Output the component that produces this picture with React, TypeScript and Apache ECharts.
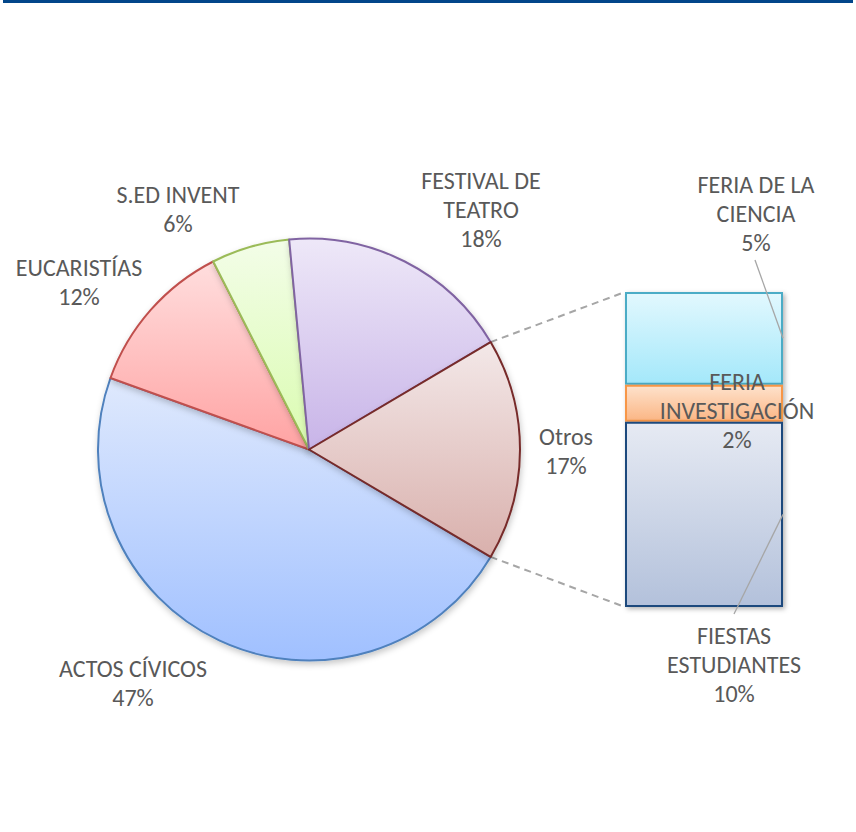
import React, { useEffect, useRef } from 'react';
import * as echarts from 'echarts';

// ---- data ----
const pieCategories = ['ACTOS CÍVICOS', 'EUCARISTÍAS', 'S.ED INVENT', 'FESTIVAL DE TEATRO', 'Otros'];
const mainValues = [47, 12, 6, 18]; // ACTOS, EUCARISTÍAS, S.ED, FESTIVAL
// listed top of bar first; stacked bottom-up in reverse
const barCategories = ['FERIA DE LA CIENCIA', 'FERIA INVESTIGACIÓN', 'FIESTAS ESTUDIANTES'];
const barValues = [5, 2, 10];
const otrosValue = barValues.reduce((a, b) => a + b, 0);
const pieValues = [...mainValues, otrosValue];

// ---- layout / style ----
const FONT = 'Carlito, Calibri, Lato, "Liberation Sans", sans-serif';
const TEXT_COLOR = '#595959';
const PIE_CENTER = [309, 449.5];
const PIE_R = 211;
const GRID = { left: 625, top: 292, width: 158, height: 315 };

const wrapped: Record<string, string> = {
  'FESTIVAL DE TEATRO': 'FESTIVAL DE\nTEATRO',
  'FERIA DE LA CIENCIA': 'FERIA DE LA\nCIENCIA',
  'FERIA INVESTIGACIÓN': 'FERIA\nINVESTIGACIÓN',
  'FIESTAS ESTUDIANTES': 'FIESTAS\nESTUDIANTES',
};

const pieLabelPos = [
  [133, 682.5],
  [79, 281.5],
  [178, 208.5],
  [481, 209],
  [566, 450.5],
];
const barLabelPos = [
  [756, 213],
  [737, 410.5],
  [734, 664],
];

const pieStyles = [
  { top: '#dfe9fd', bottom: '#a0c0ff', border: '#4f81bd' },
  { top: '#ffdede', bottom: '#ffa3a3', border: '#c0504d' },
  { top: '#f3fde8', bottom: '#dafcb0', border: '#9bbb59' },
  { top: '#eee8f8', bottom: '#c8b4e8', border: '#8064a2' },
  { top: '#f3e8e8', bottom: '#d9b0ac', border: '#772c2a' },
];
const barStyles = [
  { top: '#e2f8fe', bottom: '#a4e8fa', border: '#4bacc6' },
  { top: '#fee2cc', bottom: '#fbb685', border: '#f79646' },
  { top: '#e6eaf3', bottom: '#b3c1db', border: '#1f497d' },
];

const grad = (s: { top: string; bottom: string }) => ({
  type: 'linear',
  x: 0,
  y: 0,
  x2: 0,
  y2: 1,
  colorStops: [
    { offset: 0, color: s.top },
    { offset: 1, color: s.bottom },
  ],
});

const labelText = {
  fontFamily: FONT,
  fontSize: 24,
  lineHeight: 29,
  color: TEXT_COLOR,
  overflow: 'none',
};

export default function App() {
  const ref = useRef<HTMLDivElement>(null);

  useEffect(() => {
    document.body.style.margin = '0';
    if (!ref.current) return;
    const chart = echarts.init(ref.current, undefined, { renderer: 'svg' });
    const total = pieValues.reduce((a, b) => a + b, 0);
    const startAngle = -(otrosValue / total) * 180; // Otros centred on horizontal

    const barSeries = barCategories.map((name, i) => ({
      type: 'bar',
      name,
      stack: 'otros',
      stackOrder: 'seriesDesc',
      barWidth: '100%',
      xAxisIndex: 0,
      yAxisIndex: 0,
      data: [barValues[i]],
      z: 2,
      itemStyle: {
        color: grad(barStyles[i]),
        borderColor: barStyles[i].border,
        borderWidth: 2,
        shadowBlur: 5,
        shadowOffsetX: 2,
        shadowOffsetY: 2,
        shadowColor: 'rgba(0,0,0,0.3)',
      },
      label: {
        show: true,
        ...labelText,
        align: 'center',
        formatter: () =>
          `${wrapped[name] ?? name}\n${Math.round((barValues[i] / total) * 100)}%`,
      },
      labelLayout: () => ({
        x: barLabelPos[i][0],
        y: barLabelPos[i][1],
        align: 'center',
        verticalAlign: 'middle',
      }),
    }));

    chart.setOption({
      animation: false,
      grid: { ...GRID, containLabel: false },
      xAxis: { type: 'category', data: ['Otros'], show: false },
      yAxis: { type: 'value', min: 0, max: otrosValue, show: false },
      series: [
        {
          type: 'pie',
          center: PIE_CENTER,
          radius: PIE_R,
          startAngle,
          clockwise: true,
          percentPrecision: 0,
          data: pieCategories.map((name, i) => ({
            name,
            value: pieValues[i],
            itemStyle: {
              color: grad(pieStyles[i]),
              borderColor: pieStyles[i].border,
              borderWidth: 2,
              shadowBlur: 6,
              shadowOffsetY: 3,
              shadowOffsetX: 1,
              shadowColor: 'rgba(0,0,0,0.22)',
            },
          })),
          label: {
            show: true,
            position: 'outside',
            ...labelText,
            align: 'center',
            formatter: (p: any) => `${wrapped[p.name] ?? p.name}\n${p.percent}%`,
          },
          labelLine: { show: false },
          labelLayout: (p: any) => ({
            x: pieLabelPos[p.dataIndex][0],
            y: pieLabelPos[p.dataIndex][1],
            align: 'center',
            verticalAlign: 'middle',
          }),
          emphasis: { disabled: true },
        },
        ...barSeries,
      ],
    });

    // connectors and leader lines, computed from the library's scales
    const half = (Math.abs(startAngle) * Math.PI) / 180;
    const pTop = [PIE_CENTER[0] + PIE_R * Math.cos(half), PIE_CENTER[1] - PIE_R * Math.sin(half)];
    const pBot = [PIE_CENTER[0] + PIE_R * Math.cos(half), PIE_CENTER[1] + PIE_R * Math.sin(half)];
    const xLeft = GRID.left;
    const xRight = GRID.left + GRID.width;
    const yTop = chart.convertToPixel({ yAxisIndex: 0 }, otrosValue) as number;
    const yBot = chart.convertToPixel({ yAxisIndex: 0 }, 0) as number;
    // segment midpoint, stacked from the top of the bar downwards
    const mid = (i: number) => {
      let c = 0;
      for (let k = 0; k < i; k++) c += barValues[k];
      return chart.convertToPixel({ yAxisIndex: 0 }, otrosValue - c - barValues[i] / 2) as number;
    };
    const dash = { stroke: '#a6a6a6', lineWidth: 2, lineDash: [7, 5] };
    const guide = { stroke: '#a6a6a6', lineWidth: 1.3 };
    chart.setOption({
      graphic: [
        { type: 'rect', shape: { x: 3, y: 0, width: 850, height: 3 }, style: { fill: '#02468a' } },
        { type: 'line', shape: { x1: pTop[0], y1: pTop[1], x2: xLeft, y2: yTop }, style: dash, z: 1 },
        { type: 'line', shape: { x1: pBot[0], y1: pBot[1], x2: xLeft, y2: yBot }, style: dash, z: 1 },
        { type: 'line', shape: { x1: 755, y1: 260, x2: xRight, y2: mid(0) }, style: guide, z: 10 },
        { type: 'line', shape: { x1: 734, y1: 614, x2: xRight, y2: mid(2) }, style: guide, z: 10 },
      ],
    });

    return () => chart.dispose();
  }, []);

  return <div ref={ref} style={{ width: 856, height: 832 }} />;
}
